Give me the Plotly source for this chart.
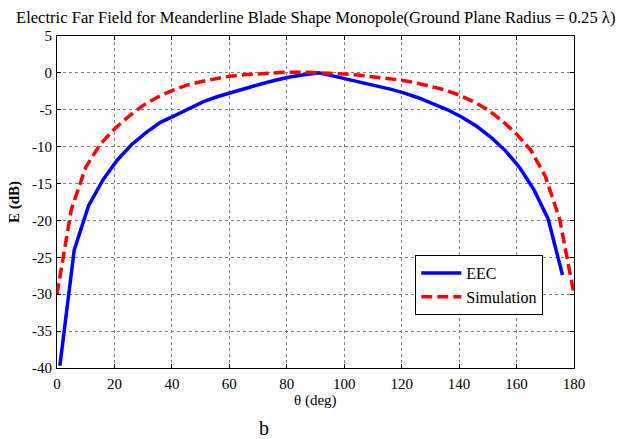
import plotly.graph_objects as go

theta_eec = [1, 6, 11, 16, 21, 26, 31, 36, 41, 46, 51, 56, 61, 66, 71, 76, 81, 86, 91,
             96, 101, 106, 111, 116, 121, 126, 131, 136, 141, 146, 151, 156, 161, 166, 171, 176]
e_eec = [-39.7, -24.0, -18.0, -14.5, -11.8, -9.7, -8.1, -6.7, -5.8, -4.8, -3.9, -3.2, -2.6, -2.1,
         -1.5, -1.0, -0.55, -0.25, 0.0,
         -0.4, -0.85, -1.3, -1.7, -2.2, -2.75, -3.4, -4.2, -5.0, -6.0, -7.2, -8.7, -10.5, -12.8,
         -15.8, -19.8, -27.4]

theta_sim = [0, 5, 10, 15, 20, 25, 30, 35, 40, 45, 50, 55, 60, 65, 70, 75, 80, 85, 90,
             95, 100, 105, 110, 115, 120, 125, 130, 135, 140, 145, 150, 155, 160, 165, 170, 175, 180]
e_sim = [-30.0, -18.5, -12.8, -9.7, -7.6, -5.9, -4.4, -3.3, -2.4, -1.7, -1.2, -0.8, -0.45, -0.25,
         -0.1, 0.0, 0.1, 0.1, 0.05,
         -0.05, -0.15, -0.3, -0.5, -0.75, -1.0, -1.35, -1.8, -2.3, -3.0, -3.9, -5.0, -6.5, -8.3,
         -10.5, -14.0, -19.8, -30.0]

x_ticks = list(range(0, 181, 20))
y_ticks = list(range(-40, 6, 5))
x_labels = [str(v) for v in x_ticks]
y_labels = [str(v) for v in y_ticks]

font_family = "Liberation Serif, Times New Roman, serif"

fig = go.Figure()
fig.add_trace(go.Scatter(x=theta_eec, y=e_eec, mode="lines", name="EEC",
                         line=dict(color="#0000FF", width=3.5)))
fig.add_trace(go.Scatter(x=theta_sim, y=e_sim, mode="lines", name="Simulation",
                         line=dict(color="#FF0000", width=3.5, dash="11px,5px")))

axis_common = dict(
    showline=True, linecolor="black", linewidth=1, mirror="ticks",
    ticks="inside", ticklen=4, tickcolor="black",
    showgrid=True, gridcolor="#808080", gridwidth=1, griddash="dot",
    zeroline=False,
    tickfont=dict(family=font_family, size=15, color="black"),
)

fig.update_xaxes(range=[0, 180], tickvals=x_ticks, ticktext=x_labels, ticklabelstandoff=2,
                 **axis_common)
fig.update_yaxes(range=[-40, 5], tickvals=y_ticks, ticktext=y_labels, ticklabelstandoff=1,
                 **axis_common)

fig.update_layout(
    width=617, height=439,
    margin=dict(l=57, r=43, t=36, b=71),
    paper_bgcolor="white", plot_bgcolor="white",
    font=dict(family=font_family, size=14, color="black"),
    showlegend=True,
    legend=dict(x=0.693, y=0.34, xanchor="left", yanchor="top",
                bgcolor="white", bordercolor="black", borderwidth=1,
                font=dict(family=font_family, size=16, color="black"),
                tracegroupgap=0, itemwidth=40),
    annotations=[
        dict(text="Electric Far Field for Meanderline Blade Shape Monopole(Ground Plane Radius = 0.25 \u03bb)",
             x=0.5, xref="paper", y=1.057, yref="paper", yanchor="middle", showarrow=False,
             font=dict(family=font_family, size=16.6)),
        dict(text="\u03b8 (deg)", x=0.5, xref="paper", y=-0.097, yref="paper",
             showarrow=False, yanchor="middle", font=dict(family=font_family, size=15)),
        dict(text="b", x=0.4, xref="paper", y=-0.18, yref="paper",
             showarrow=False, yanchor="middle", font=dict(family=font_family, size=20)),
        dict(text="<b>E (dB)</b>", x=-0.083, xref="paper", y=0.5, yref="paper",
             showarrow=False, textangle=-90, xanchor="center", yanchor="middle",
             font=dict(family=font_family, size=15)),
    ],
)

fig.write_html("out.html", config={"displayModeBar": False},
               post_script="document.body.style.margin='0';")
